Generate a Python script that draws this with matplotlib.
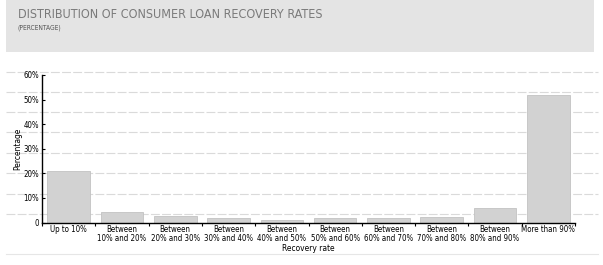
import numpy as np
import matplotlib.pyplot as plt
import matplotlib.patches as mpatches
from matplotlib.ticker import FixedLocator, FuncFormatter

# ---------- data ----------
categories = ['Up to 10%', 'Between\n10% and 20%', 'Between\n20% and 30%',
              'Between\n30% and 40%', 'Between\n40% and 50%', 'Between\n50% and 60%',
              'Between\n60% and 70%', 'Between\n70% and 80%', 'Between\n80% and 90%',
              'More than 90%']
shares = [21.0, 4.1, 2.6, 1.8, 1.1, 1.7, 1.7, 2.4, 6.1, 52.0]
yticks = [0, 10, 20, 30, 40, 50, 60]

title = 'DISTRIBUTION OF CONSUMER LOAN RECOVERY RATES'
subtitle = '(PERCENTAGE)'

plt.rcParams['font.family'] = ['DejaVu Sans']
plt.rcParams['font.stretch'] = 'condensed'

W, H = 603, 265
fig = plt.figure(figsize=(W / 100, H / 100), dpi=100)
fig.patch.set_facecolor('white')

# ---------- background: header box and loose dashed rules ----------
bg = fig.add_axes([0, 0, 1, 1], zorder=0)
bg.set_xlim(0, W)
bg.set_ylim(H, 0)
bg.axis('off')
bg.add_patch(mpatches.Rectangle((6, 0), 588, 52, facecolor='#e4e4e4',
                                edgecolor='none'))
for yy in [72, 92, 112, 132, 153, 173, 194, 214]:
    bg.plot([6, 598], [yy, yy], color='#dadada', lw=0.8, ls=(0, (8, 2)))
bg.plot([6, 598], [254, 254], color='#e6e6e6', lw=0.8)

bg.text(18, 15, title, fontsize=9.0, color='#7a7a7a', va='center', ha='left')
bg.text(18, 28, subtitle, fontsize=4.8, color='#555555', va='center', ha='left')

# ---------- bar chart ----------
ax = fig.add_axes([42 / W, 1 - 222.5 / H, 533 / W, 147.5 / H], zorder=2)
ax.patch.set_alpha(0)
x = np.arange(len(categories))
ax.bar(x, shares, width=0.8, color='#d2d2d2', edgecolor='#c2c2c2', lw=0.6)

ax.set_xlim(-0.5, len(categories) - 0.5)
ax.set_ylim(0, 60)
for s in ['top', 'right']:
    ax.spines[s].set_visible(False)
ax.spines['left'].set_linewidth(1.0)
ax.spines['bottom'].set_linewidth(1.0)

ax.set_xticks(x)
ax.set_xticklabels(categories, fontsize=5.7, linespacing=0.9)
ax.xaxis.set_minor_locator(FixedLocator(np.arange(len(categories) + 1) - 0.5))
ax.tick_params(axis='x', which='major', length=0, pad=2)
ax.tick_params(axis='x', which='minor', length=2.5, direction='out', width=0.8)

ax.set_yticks(yticks)
ax.yaxis.set_major_formatter(FuncFormatter(lambda v, p: '0' if v == 0 else '%d%%' % v))
ax.tick_params(axis='y', length=2, direction='in', width=0.8, labelsize=5.7, pad=2)

ax.set_ylabel('Percentage', fontsize=6.0, labelpad=1)
ax.set_xlabel('Recovery rate', fontsize=6.0, labelpad=1)

fig.savefig('out.png', dpi=100)
